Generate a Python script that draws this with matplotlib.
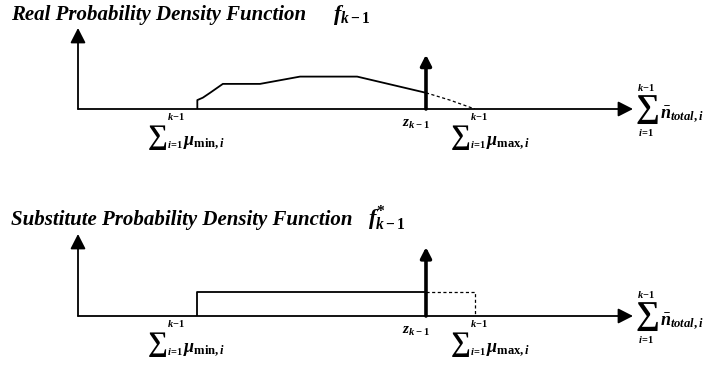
import matplotlib.pyplot as plt

plt.rcParams['mathtext.fontset'] = 'custom'
plt.rcParams['mathtext.rm'] = 'Liberation Serif:bold'
plt.rcParams['mathtext.it'] = 'Liberation Serif:italic:bold'
plt.rcParams['mathtext.bf'] = 'Liberation Serif:bold'
plt.rcParams['mathtext.fallback'] = 'stix'

# positions on the summed-demand axis (axis runs 0..10)
mu_min = 2.15
z_k = 6.27
mu_max = 7.15

# real density: solid part up to z, dashed tail down to mu_max
real_x = [2.15, 2.15, 2.25, 2.38, 2.61, 3.28, 4.00, 5.03, 6.27]
real_y = [0.00, 0.11, 0.14, 0.20, 0.31, 0.31, 0.40, 0.40, 0.20]
tail_x = [6.27, 6.70, 7.15]
tail_y = [0.20, 0.11, 0.00]

# substitute (uniform) density height
sub_h = 0.29

# height of the z arrow in each panel
z_top = 0.67
z_bot = 0.84

fig = plt.figure(figsize=(7.06, 3.67), dpi=100)
W, H = 706, 367
PT = 0.72  # pixels -> points at 100 dpi


def add_panel(x0, x1, y_axis, y_tip):
    ax = fig.add_axes([x0 / W, (H - y_axis) / H, (x1 - x0) / W, (y_axis - y_tip) / H])
    ax.set_xlim(0, 10)
    ax.set_ylim(0, 1)
    ax.axis('off')
    return ax


def arrow(ax, start, end, lw, scale):
    ax.annotate('', xy=end, xytext=start,
                arrowprops=dict(arrowstyle='-|>,head_length=0.45,head_width=0.23',
                                mutation_scale=scale, lw=lw, color='black',
                                shrinkA=0, shrinkB=0), annotation_clip=False)


def put(ax, x, dx, dy, s, size, ha='left', va='top'):
    # text placed at an offset (in pixels) from a point on the x axis
    ax.annotate(s, xy=(x, 0), xytext=(dx * PT, -dy * PT), textcoords='offset points',
                ha=ha, va=va, fontsize=size, annotation_clip=False)


def sum_label(ax, x, dx, body):
    # inline sum with side limits, then the summand
    put(ax, x, dx, 14, r'$\sum$', 20)
    put(ax, x, dx + 20, 2, r'$k\!-\!1$', 7.5)
    put(ax, x, dx + 20, 30, r'$i\!=\!1$', 7.5)
    put(ax, x, dx + 36, 36, body, 13, va='baseline')


def axes_and_labels(ax):
    arrow(ax, (0, 0), (10, 0), 1.3, 20)
    arrow(ax, (0, 0), (0, 1), 1.3, 20)
    # total-demand label at the end of the x axis
    put(ax, 10, 2, -16, r'$\sum$', 24)
    put(ax, 10, 13, -27, r'$k\!-\!1$', 7.5, ha='center')
    put(ax, 10, 13, 18, r'$i\!=\!1$', 7.5, ha='center')
    put(ax, 10, 27, 9, r'$\bar{n}_{total,i}$', 13, va='baseline')
    put(ax, z_k, -24, 7, r'$z_{k-1}$', 11)
    sum_label(ax, mu_min, -50, r'$\mu_{\min,i}$')
    sum_label(ax, mu_max, -25, r'$\mu_{\max,i}$')


# top panel: real probability density
ax1 = add_panel(78, 633, 109, 28)
ax1.plot(real_x, real_y, color='black', lw=1.3, solid_joinstyle='round')
ax1.plot(tail_x, tail_y, color='black', lw=0.9, ls=(0, (2.5, 2)))
arrow(ax1, (z_k, 0), (z_k, z_top), 2.6, 14)
axes_and_labels(ax1)

# bottom panel: substitute (uniform) density
ax2 = add_panel(78, 633, 316, 234)
ax2.plot([mu_min, mu_min, z_k], [0, sub_h, sub_h], color='black', lw=1.3)
ax2.plot([z_k, mu_max, mu_max], [sub_h, sub_h, 0], color='black', lw=0.9, ls=(0, (2.5, 2)))
arrow(ax2, (z_k, 0), (z_k, z_bot), 2.6, 14)
axes_and_labels(ax2)

title_kw = dict(family='Liberation Serif', style='italic', weight='bold', fontsize=15)
fig.text(11 / W, 1 - 20 / H, 'Real Probability Density Function', va='baseline', **title_kw)
fig.text(333 / W, 1 - 20 / H, r'$f_{k-1}$', va='baseline', fontsize=16)
fig.text(11 / W, 1 - 225 / H, 'Substitute Probability Density Function', va='baseline', **title_kw)
fig.text(368 / W, 1 - 225 / H, r'$f^{*}_{k-1}$', va='baseline', fontsize=16)

fig.savefig('out.png', dpi=100)
